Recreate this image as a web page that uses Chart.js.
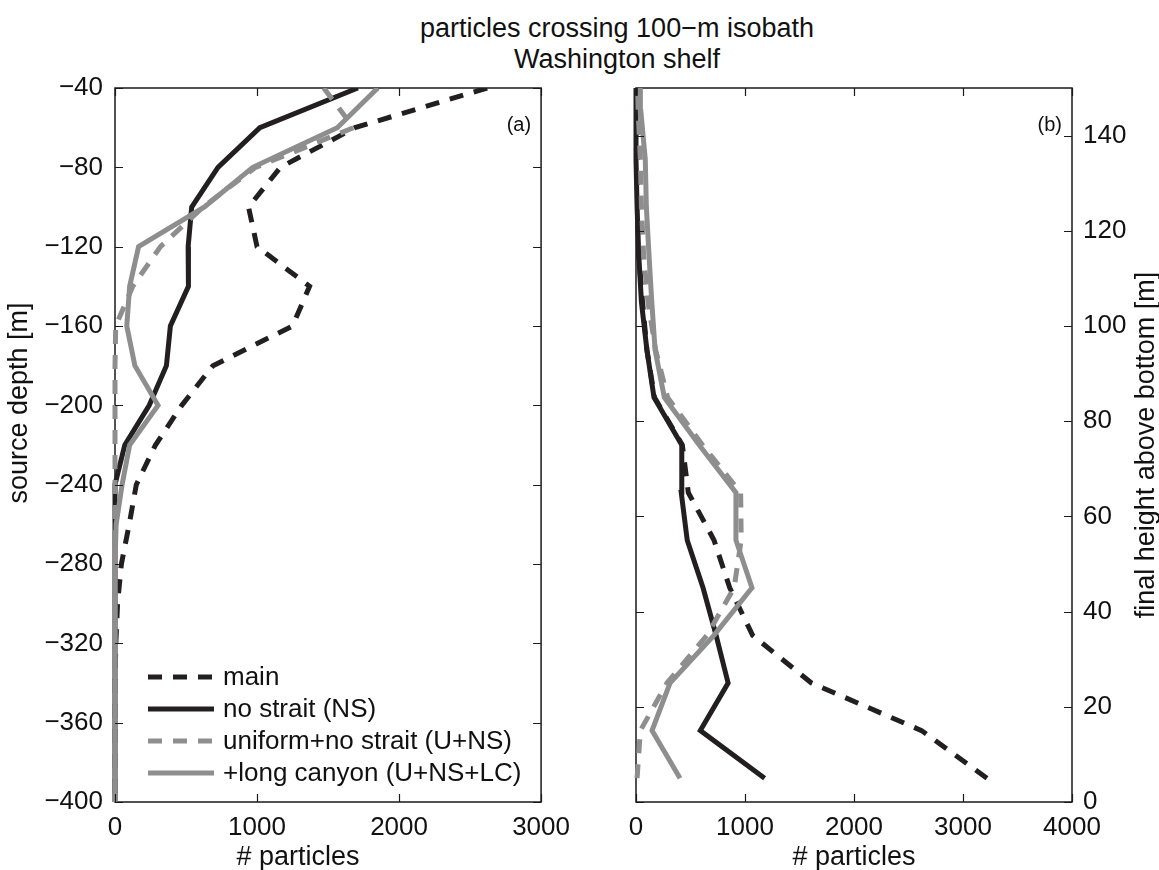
<!DOCTYPE html>
<html><head><meta charset="utf-8">
<script src="https://cdn.jsdelivr.net/npm/chart.js@4.4.0/dist/chart.umd.min.js"></script>
<style>
html,body{margin:0;padding:0;background:#fff;}
#wrap{position:relative;width:1159px;height:870px;overflow:hidden;background:#fff;}
#ca{position:absolute;left:0;top:0;}
#cb{position:absolute;left:580px;top:0;}
#title{position:absolute;left:317px;width:600px;top:13px;text-align:center;font:27px "Liberation Sans",Arial,sans-serif;line-height:31px;color:#111;}
</style></head><body>
<div id="wrap">
<div id="title">particles crossing 100−m isobath<br>Washington shelf</div>
<canvas id="ca" width="580" height="870"></canvas>
<canvas id="cb" width="579" height="870"></canvas>
</div>
<script>
// ---------- data: panel (a) source depth ----------
const depthsA = [-40,-60,-80,-100,-120,-140,-160,-180,-200,-220,-240,-260,-280,-300,-320,-340,-360,-380,-400];
const mainA = [2620,1690,1165,940,1000,1370,1250,690,470,285,150,100,45,18,6,0,0,0,0];
const nsA   = [1710,1020,725,540,515,517,390,362,241,69,0,0,0,0,0,0,0,0,0];
const unsA  = [1470,1680,990,620,320,125,5,0,0,0,0,0,0,0,0,0,0,0,0];
const lcA   = [1850,1565,970,630,166,103,83,140,303,103,50,8,0,0,0,0,0,0,0];
const xTicksA = [0,1000,2000,3000];
const yTicksA = [-400,-360,-320,-280,-240,-200,-160,-120,-80,-40];

// ---------- data: panel (b) final height above bottom ----------
const heightsB = [5,15,25,35,45,55,65,75,85,95,105,115,125,135,145,155];
const mainB = [3220,2620,1610,1070,860,716,480,425,170,100,60,25,15,10,5,3];
const nsB   = [1180,590,845,735,615,470,415,420,165,100,50,25,10,0,0,0];
const unsB  = [10,40,284,650,900,965,960,610,290,180,110,70,50,40,20,10];
const lcB   = [404,147,312,715,1064,917,917,580,260,175,145,119,95,85,45,40];
const xTicksB = [0,1000,2000,3000,4000];
const yTicksB = [0,20,40,60,80,100,120,140];

const seriesLabels = ['main','no strait (NS)','uniform+no strait (U+NS)','+long canyon (U+NS+LC)'];

const BLACK = '#231f20', GRAY = '#8e8e8e';
const DASH = [14,11];
const FONT = '"Liberation Sans", Arial, Helvetica, sans-serif';
Chart.defaults.font.family = FONT;
Chart.defaults.font.size = 26;
Chart.defaults.color = '#111';

function ds(label, xs, ys, color, dash, order){
  return {label, data: xs.map((x,i)=>({x:x, y:ys[i]})), showLine:true, borderColor:color,
    backgroundColor:color, borderWidth:5, borderDash:dash, pointRadius:0, pointHoverRadius:0,
    tension:0, fill:false, order:order, borderCapStyle:'butt', borderJoinStyle:'miter',
    clip:{left:4, top:0, right:0, bottom:4}};
}
function makeSets(m,n,u,l,ys){
  return [
    ds(seriesLabels[0], m, ys, BLACK, DASH, 4),
    ds(seriesLabels[1], n, ys, BLACK, [], 3),
    ds(seriesLabels[2], u, ys, GRAY, DASH, 2),
    ds(seriesLabels[3], l, ys, GRAY, [], 1)
  ];
}
const minus = v => String(v).replace('-', '\u2212');

const framePlugin = {
  id:'frameTicks',
  beforeDatasetsDraw(chart){
    const {ctx, chartArea:a} = chart;
    ctx.save();
    ctx.strokeStyle = '#1a1a1a'; ctx.lineWidth = 1.5;
    ctx.strokeRect(a.left, a.top, a.right-a.left, a.bottom-a.top);
    ctx.restore();
  },
  afterDraw(chart, args, opts){
    const {ctx, chartArea:a} = chart;
    const xs = chart.scales.x, ys = chart.scales.y;
    const L = 8;
    ctx.save();
    ctx.strokeStyle = '#1a1a1a'; ctx.lineWidth = 1.2;
    ctx.beginPath();
    xs.ticks.forEach(t=>{ const px = Math.round(xs.getPixelForValue(t.value))+0.5;
      ctx.moveTo(px, a.bottom); ctx.lineTo(px, a.bottom-L);
      ctx.moveTo(px, a.top); ctx.lineTo(px, a.top+L); });
    ys.ticks.forEach(t=>{ const py = Math.round(ys.getPixelForValue(t.value))+0.5;
      ctx.moveTo(a.left, py); ctx.lineTo(a.left+L, py);
      ctx.moveTo(a.right, py); ctx.lineTo(a.right-L, py); });
    ctx.stroke();
    // panel letter
    ctx.fillStyle = '#111';
    ctx.font = '20px ' + FONT;
    ctx.textAlign = 'right'; ctx.textBaseline = 'middle';
    ctx.fillText(opts.panel, a.right - 10, a.top + 37);
    // axis titles
    ctx.font = '27px ' + FONT;
    ctx.textAlign = 'center'; ctx.textBaseline = 'middle';
    const xt = opts.xTitle;
    ctx.fillText(xt.text, (a.left + a.right)/2 + xt.dx, chart.height - 12);
    const yt = opts.yTitle;
    ctx.save();
    ctx.translate(yt.side === 'left' ? 20 : chart.width - 12, (a.top + a.bottom)/2 + yt.dy);
    ctx.rotate(-Math.PI/2);
    ctx.fillText(yt.text, 0, 0);
    ctx.restore();
    // legend
    if (opts.legend){
      const x0 = a.left + 33, x1 = a.left + 99, tx = a.left + 108;
      const y0 = a.bottom - 125, dy = 32;
      ctx.font = '26px ' + FONT;
      ctx.textAlign = 'left'; ctx.textBaseline = 'middle';
      chart.data.datasets.forEach((d,i)=>{
        const y = y0 + i*dy;
        ctx.save();
        ctx.strokeStyle = d.borderColor; ctx.lineWidth = d.borderWidth;
        ctx.setLineDash(d.borderDash || []); ctx.lineCap = 'butt';
        ctx.beginPath(); ctx.moveTo(x0, y); ctx.lineTo(x1, y); ctx.stroke();
        ctx.restore();
        ctx.fillStyle = '#111';
        ctx.fillText(d.label, tx, y+1);
      });
    }
    ctx.restore();
  }
};

new Chart(document.getElementById('ca'), {
  type:'scatter',
  data:{ datasets: makeSets(mainA, nsA, unsA, lcA, depthsA) },
  options:{
    responsive:false, animation:false, events:[],
    layout:{padding:{top:88, right:29, left:0, bottom:0}},
    plugins:{legend:{display:false}, tooltip:{enabled:false},
      frameTicks:{panel:'(a)', legend:true,
        xTitle:{text:'# particles', dx:-30}, yTitle:{text:'source depth [m]', side:'left', dy:-42}}},
    scales:{
      x:{type:'linear', min:0, max:3000, position:'bottom',
        afterBuildTicks:s=>{ s.ticks = xTicksA.map(v=>({value:v})); },
        afterFit:s=>{ s.height = 68; },
        grid:{display:false, drawTicks:false}, border:{display:false},
        ticks:{padding:10, maxRotation:0, callback:v=>minus(v)},
        title:{display:false}},
      y:{type:'linear', min:-400, max:-40, position:'left',
        afterBuildTicks:s=>{ s.ticks = yTicksA.map(v=>({value:v})); },
        afterFit:s=>{ s.width = 115; },
        grid:{display:false, drawTicks:false}, border:{display:false},
        ticks:{padding:12, callback:v=>minus(v)},
        title:{display:false}}
    }
  },
  plugins:[framePlugin]
});

new Chart(document.getElementById('cb'), {
  type:'scatter',
  data:{ datasets: makeSets(mainB, nsB, unsB, lcB, heightsB) },
  options:{
    responsive:false, animation:false, events:[],
    layout:{padding:{top:88, right:0, left:56, bottom:0}},
    plugins:{legend:{display:false}, tooltip:{enabled:false},
      frameTicks:{panel:'(b)', legend:false,
        xTitle:{text:'# particles', dx:0}, yTitle:{text:'final height above bottom [m]', side:'right', dy:0}}},
    scales:{
      x:{type:'linear', min:0, max:4000, position:'bottom',
        afterBuildTicks:s=>{ s.ticks = xTicksB.map(v=>({value:v})); },
        afterFit:s=>{ s.height = 68; },
        grid:{display:false, drawTicks:false}, border:{display:false},
        ticks:{padding:10, maxRotation:0, callback:v=>minus(v)},
        title:{display:false}},
      y:{type:'linear', min:0, max:150, position:'right',
        afterBuildTicks:s=>{ s.ticks = yTicksB.map(v=>({value:v})); },
        afterFit:s=>{ s.width = 87; },
        grid:{display:false, drawTicks:false}, border:{display:false},
        ticks:{padding:11, callback:v=>minus(v)},
        title:{display:false}}
    }
  },
  plugins:[framePlugin]
});
</script>
</body></html>
